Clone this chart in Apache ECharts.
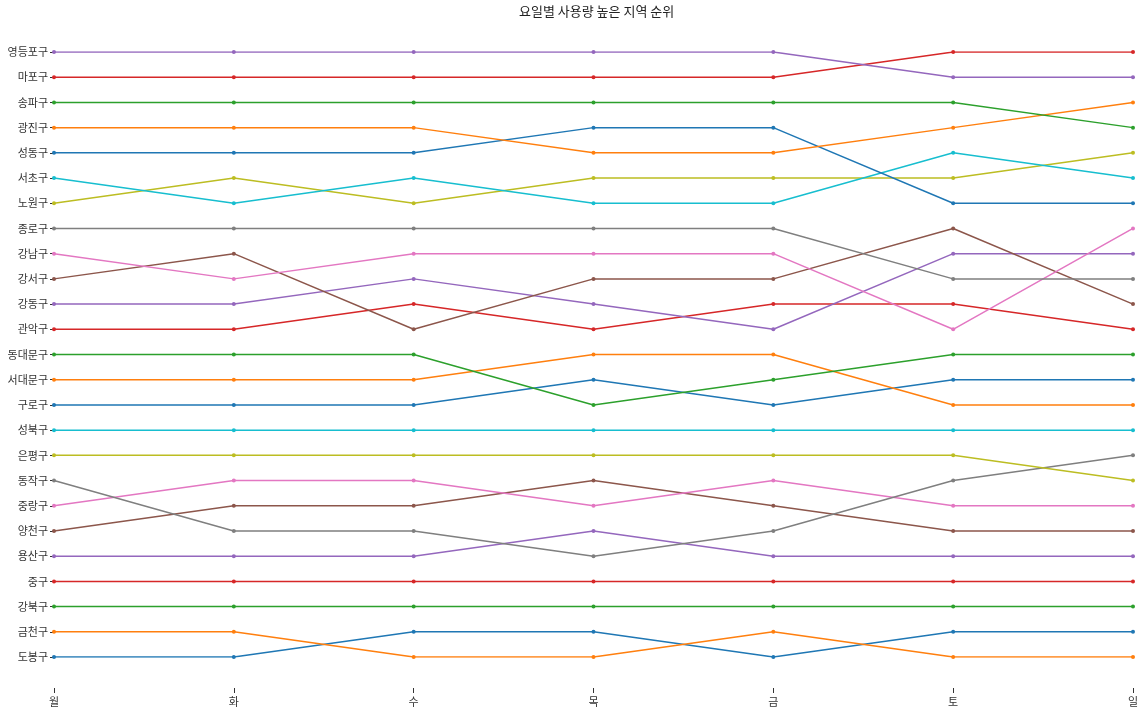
<!DOCTYPE html>
<html>
<head>
<meta charset="utf-8">
<script src="https://cdn.jsdelivr.net/npm/echarts@6/dist/echarts.min.js"></script>
<style>
    html, body { margin: 0; padding: 0; background: #fff; }
    #chart { width: 1144px; height: 712px; }
</style>
</head>
<body>
<div id="chart"></div>
<script>
var days = ['월', '화', '수', '목', '금', '토', '일'];
// 월요일 순위 순서
var districts = ['영등포구', '마포구', '송파구', '광진구', '성동구', '서초구', '노원구', '종로구', '강남구', '강서구',
    '강동구', '관악구', '동대문구', '서대문구', '구로구', '성북구', '은평구', '동작구', '중랑구', '양천구',
    '용산구', '중구', '강북구', '금천구', '도봉구'];
// 요일별 순위 (월~일)
var ranks = [
    [1, 1, 1, 1, 1, 2, 2],
    [2, 2, 2, 2, 2, 1, 1],
    [3, 3, 3, 3, 3, 3, 4],
    [4, 4, 4, 5, 5, 4, 3],
    [5, 5, 5, 4, 4, 7, 7],
    [6, 7, 6, 7, 7, 5, 6],
    [7, 6, 7, 6, 6, 6, 5],
    [8, 8, 8, 8, 8, 10, 10],
    [9, 10, 9, 9, 9, 12, 8],
    [10, 9, 12, 10, 10, 8, 11],
    [11, 11, 10, 11, 12, 9, 9],
    [12, 12, 11, 12, 11, 11, 12],
    [13, 13, 13, 15, 14, 13, 13],
    [14, 14, 14, 13, 13, 15, 15],
    [15, 15, 15, 14, 15, 14, 14],
    [16, 16, 16, 16, 16, 16, 16],
    [17, 17, 17, 17, 17, 17, 18],
    [18, 20, 20, 21, 20, 18, 17],
    [19, 18, 18, 19, 18, 19, 19],
    [20, 19, 19, 18, 19, 20, 20],
    [21, 21, 21, 20, 21, 21, 21],
    [22, 22, 22, 22, 22, 22, 22],
    [23, 23, 23, 23, 23, 23, 23],
    [24, 24, 25, 25, 24, 25, 25],
    [25, 25, 24, 24, 25, 24, 24]
];
var palette = ['#1f77b4', '#ff7f0e', '#2ca02c', '#d62728', '#9467bd', '#8c564b', '#e377c2', '#7f7f7f', '#bcbd22', '#17becf'];

var font = '"Noto Sans CJK KR", "Noto Sans", sans-serif';
var chart = echarts.init(document.getElementById('chart'), null, { renderer: 'canvas' });

var series = [];
// 아래 순위부터 그림 (색상 순서도 아래부터)
for (var i = districts.length - 1; i >= 0; i--) {
    var c = palette[(districts.length - 1 - i) % 10];
    series.push({
        name: districts[i],
        type: 'line',
        data: ranks[i],
        symbol: 'circle',
        symbolSize: 4,
        lineStyle: { width: 1.5, color: c },
        itemStyle: { color: c },
        animation: false
    });
}

var option = {
    animation: false,
    title: {
        text: '요일별 사용량 높은 지역 순위',
        left: 514,
        top: 0,
        textStyle: { fontFamily: font, fontSize: 13, fontWeight: 'normal', color: '#222' }
    },
    grid: { left: 54, right: 11, top: 52, bottom: 55, containLabel: false },
    xAxis: {
        type: 'category',
        data: days,
        boundaryGap: false,
        offset: 31,
        axisLine: { show: false },
        axisTick: { show: true, length: 5, lineStyle: { color: '#333' } },
        axisLabel: { fontFamily: font, fontSize: 11, color: '#333', margin: 8 },
        splitLine: { show: false }
    },
    yAxis: {
        type: 'value',
        inverse: true,
        min: 1,
        max: 25,
        interval: 1,
        axisLine: { show: false },
        axisTick: { show: true, length: 4, lineStyle: { color: '#333' } },
        axisLabel: {
            fontFamily: font, fontSize: 11, color: '#333', margin: 6,
            formatter: function (v) { return districts[v - 1] || ''; }
        },
        splitLine: { show: false }
    },
    series: series
};
chart.setOption(option);
</script>
</body>
</html>
